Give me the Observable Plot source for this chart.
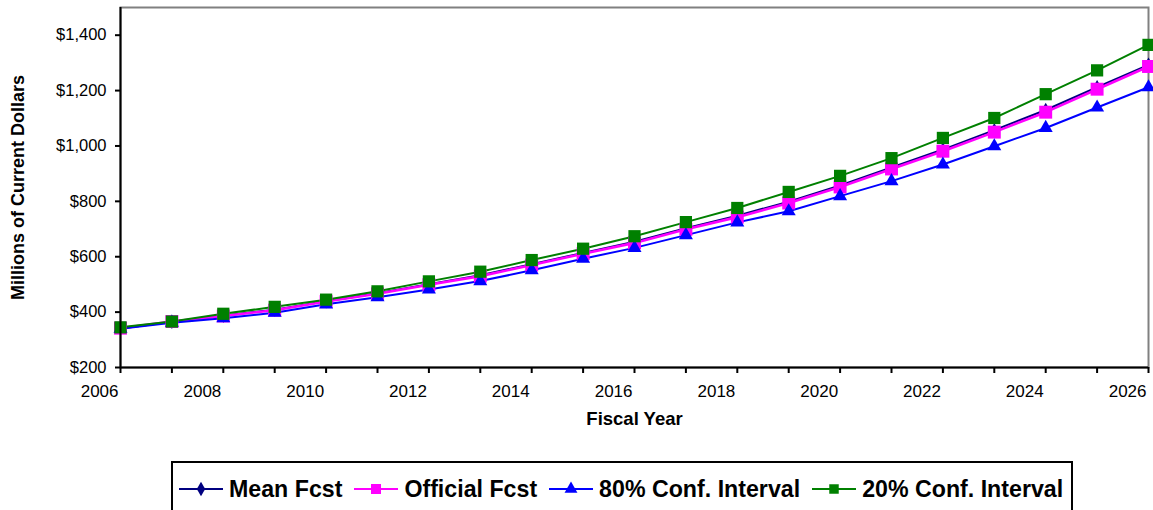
<!DOCTYPE html>
<html>
<head>
<meta charset="utf-8">
<script src="https://cdn.jsdelivr.net/npm/d3@7"></script>
<script src="https://cdn.jsdelivr.net/npm/@observablehq/plot@0.6"></script>
<style>
  html, body { margin: 0; padding: 0; background: #fff; }
  #wrap { position: relative; width: 1153px; height: 510px; overflow: hidden; font-family: "Liberation Sans", Arial, sans-serif; }
  #legend { position: absolute; left: 171px; top: 461px; width: 902px; height: 60px; box-sizing: border-box;
            border: 2px solid #000; padding: 12px 0 0 6px; display: flex; align-items: flex-start; }
  .item { display: flex; align-items: center; height: 28px; margin-right: 12px; }
  .item svg { margin-right: 6px; }
  .item span { font-weight: bold; font-size: 23.2px; line-height: 28px; color: #000; white-space: nowrap; }
</style>
</head>
<body>
<div id="wrap">
  <div id="chart"></div>
  <div id="legend"></div>
</div>
<script>
const years = d3.range(2006, 2027);
const seriesNames = ["Mean Fcst", "Official Fcst", "80% Conf. Interval", "20% Conf. Interval"];
const meanFcst     = [341, 365, 387, 409, 439, 468, 501, 533, 573, 614, 654, 703, 748, 799, 857, 922, 987, 1057, 1130, 1212, 1293];
const officialFcst = [342, 366, 386, 407, 438, 466, 499, 530, 570, 611, 650, 699, 743, 794, 852, 917, 981, 1050, 1122, 1205, 1287];
const conf80       = [340, 362, 378, 398, 428, 454, 482, 512, 551, 593, 632, 678, 724, 764, 819, 873, 933, 999, 1065, 1139, 1212];
const conf20       = [345, 366, 394, 419, 445, 475, 511, 546, 588, 629, 674, 725, 776, 834, 892, 956, 1029, 1101, 1187, 1273, 1365];
const yTicks = [200, 400, 600, 800, 1000, 1200, 1400];
const xTickYears = d3.range(2006, 2027, 2);
const yTitle = "Millions of Current Dollars";
const xTitle = "Fiscal Year";

const styles = [
  {color: "#000080", symbol: "diamond", r: 4.4, sw: 2},
  {color: "#FF00FF", symbol: "square", r: 7.3, sw: 2.6},
  {color: "#0000FF", symbol: "triangle", r: 5.2, sw: 2},
  {color: "#008000", symbol: "square", r: 6.9, sw: 2}
];
const allValues = [meanFcst, officialFcst, conf80, conf20];
const series = allValues.map((vals, i) => years.map((y, j) => ({year: y, value: vals[j], name: seriesNames[i]})));

const marks = [
  Plot.frame({stroke: "#808080", strokeWidth: 2}),
];
series.forEach((rows, i) => {
  marks.push(Plot.line(rows, {x: "year", y: "value", stroke: styles[i].color, strokeWidth: styles[i].sw}));
});
series.forEach((rows, i) => {
  marks.push(Plot.dot(rows, {x: "year", y: "value", symbol: styles[i].symbol, r: styles[i].r, fill: styles[i].color, stroke: "none"}));
});
marks.push(
  Plot.ruleX([2006], {stroke: "#000", strokeWidth: 2}),
  Plot.ruleY([200], {stroke: "#000", strokeWidth: 2}),
  Plot.axisY({ticks: yTicks, tickFormat: d => "$" + d3.format(",")(d), tickSize: 5, tickPadding: 9, strokeWidth: 2, fontSize: 16.5, label: null}),
  Plot.axisX({ticks: years, tickFormat: () => "", tickSize: 6, strokeWidth: 2, label: null}),
  Plot.axisX({ticks: xTickYears, tickFormat: d => String(d), tickSize: 0, tickPadding: 17, textAnchor: "end", dx: -2, fontSize: 17, label: null}),
  Plot.text([yTitle], {frameAnchor: "left", text: d => d, textAnchor: "middle", lineAnchor: "middle", rotate: -90, dx: -102, fontSize: 18, fontWeight: "bold", fill: "#000"}),
  Plot.text([xTitle], {frameAnchor: "bottom", text: d => d, textAnchor: "middle", dy: 57, fontSize: 18.5, fontWeight: "bold", fill: "#000"})
);

const chart = Plot.plot({
  width: 1153,
  height: 445,
  marginLeft: 120,
  marginRight: 5,
  marginTop: 7,
  marginBottom: 78,
  style: {fontFamily: "'Liberation Sans', Arial, sans-serif", color: "#000", background: "#fff", overflow: "visible"},
  x: {domain: [2006, 2026], axis: null},
  y: {domain: [200, 1500], axis: null},
  marks
});
document.getElementById("chart").appendChild(chart);

// legend
const legend = document.getElementById("legend");
const symPath = {
  diamond: d3.symbol(d3.symbolDiamond, Math.PI * 4.4 * 4.4)(),
  square: d3.symbol(d3.symbolSquare, 100)(),
  triangle: d3.symbol(d3.symbolTriangle, Math.PI * 4.8 * 4.8)()
};
seriesNames.forEach((name, i) => {
  const item = document.createElement("div");
  item.className = "item";
  const s = styles[i];
  const path = i === 3 ? d3.symbol(d3.symbolSquare, 90)() : symPath[s.symbol];
  item.innerHTML = `<svg width="44" height="20" viewBox="0 0 44 20"><line x1="0" x2="44" y1="10" y2="10" stroke="${s.color}" stroke-width="2"/><path transform="translate(22,10)" d="${path}" fill="${s.color}"/></svg><span>${name}</span>`;
  legend.appendChild(item);
});
</script>
</body>
</html>
